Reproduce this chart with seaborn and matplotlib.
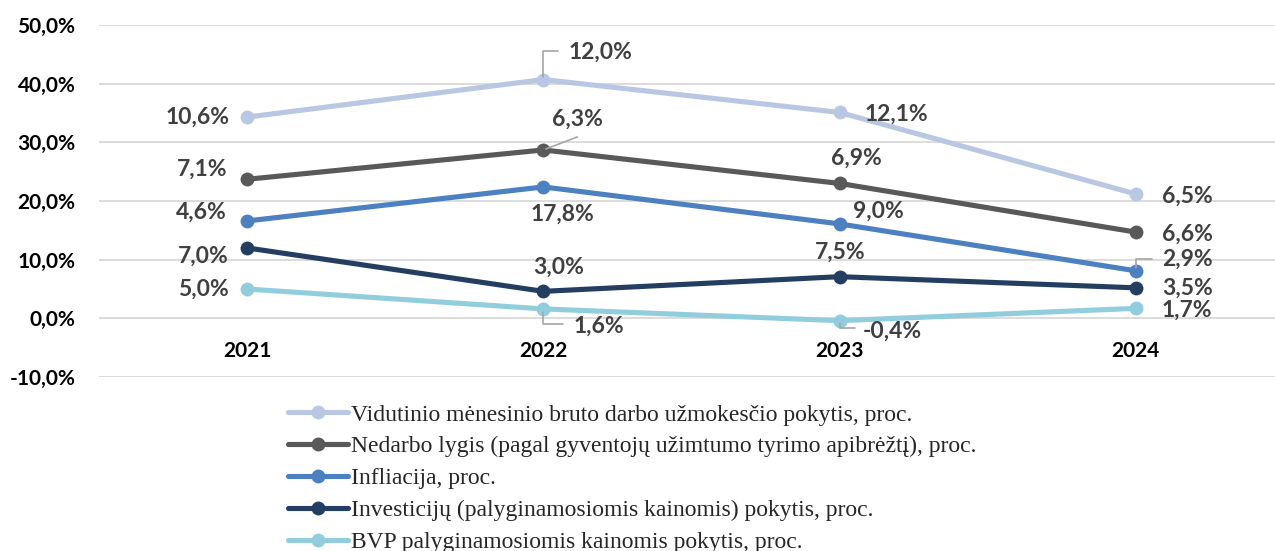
import pandas as pd
import numpy as np
import matplotlib
matplotlib.use("Agg")
import matplotlib.pyplot as plt
import seaborn as sns

# data (values as printed on the labels; lines are drawn stacked)
years = ["2021", "2022", "2023", "2024"]
series_names = [
    "Vidutinio mėnesinio bruto darbo užmokesčio pokytis, proc.",
    "Nedarbo lygis (pagal gyventojų užimtumo tyrimo apibrėžtį), proc.",
    "Infliacija, proc.",
    "Investicijų (palyginamosiomis kainomis) pokytis, proc.",
    "BVP palyginamosiomis kainomis pokytis, proc.",
]
bvp = [5.0, 1.6, -0.4, 1.7]
investicijos = [7.0, 3.0, 7.5, 3.5]
infliacija = [4.6, 17.8, 9.0, 2.9]
nedarbas = [7.1, 6.3, 6.9, 6.6]
atlyginimas = [10.6, 12.0, 12.1, 6.5]
colors = ["#B9C7E2", "#595959", "#4C80C1", "#243E62", "#92CDDD"]

# stacking order: bottom -> top
stack = [bvp, investicijos, infliacija, nedarbas, atlyginimas]
cum = np.cumsum(np.array(stack), axis=0)
# reorder to legend order (top -> bottom)
raw_vals = stack[::-1]
cum_vals = cum[::-1]

rows = []
for name, raw, cv in zip(series_names, raw_vals, cum_vals):
    for i, y in enumerate(years):
        rows.append({"series": name, "idx": i, "year": y, "raw": raw[i], "cum": cv[i]})
df = pd.DataFrame(rows)

sns.set_style("white")
plt.rcParams["font.family"] = ["Lato", "DejaVu Sans"]

fig = plt.figure(figsize=(12.75, 5.51), dpi=100)
ax = fig.add_axes([99 / 1275, 1 - 377 / 551, 1 - 99 / 1275, (377 - 25) / 551])

sns.lineplot(data=df, x="idx", y="cum", hue="series", hue_order=series_names,
             palette=colors, marker="o", markersize=10, markeredgewidth=0,
             linewidth=3.7, ax=ax, legend=True)

ax.set_xlim(-0.5, 3.47)
ax.set_ylim(-10, 50)
ax.set_yticks(range(-10, 51, 10))
ax.set_yticklabels([f"{v},0%" for v in range(-10, 51, 10)],
                   fontsize=15, fontweight="bold", color="black")
ax.tick_params(axis="y", length=0, pad=17)
ax.set_xticks([])
ax.set_xlabel("")
ax.set_ylabel("")
ax.grid(axis="y", color="#D9D9D9", linewidth=1.3)
ax.set_axisbelow(True)
for s in ax.spines.values():
    s.set_visible(False)

for i, y in enumerate(years):
    ax.text(i, -5.6, y, ha="center", va="center", fontsize=15,
            fontweight="bold", color="black")

# label offsets in pixels: (dx, dy, ha)
offsets = [
    [(-18, 0, "right"), (25, 27, "left"), (25, -2, "left"), (26, -2, "left")],
    [(-20, 10, "right"), (9, 31, "left"), (17, 25, "center"), (26, -2, "left")],
    [(-20, 9, "right"), (19, -27, "center"), (39, 13, "center"), (26, 12, "left")],
    [(-18, -8, "right"), (15, 24, "center"), (1, 24, "center"), (26, 0, "left")],
    [(-18, 0, "right"), (30, -17, "left"), (23, -11, "left"), (26, -2, "left")],
]
for si, (raw, cv) in enumerate(zip(raw_vals, cum_vals)):
    for i in range(len(years)):
        dx, dy, ha = offsets[si][i]
        ax.annotate(f"{raw[i]:.1f}%".replace(".", ","), xy=(i, cv[i]),
                    xytext=(dx, dy), textcoords="offset pixels", ha=ha,
                    va="center", fontsize=16.5, fontweight="bold", color="#404040")

# leader lines: (series, year, end dx, end dy, connection)
leaders = [
    (0, 1, 15, 29, "angle,angleA=0,angleB=90,rad=0"),
    (1, 1, 34, 13, "arc3"),
    (4, 1, 20, -15, "angle,angleA=0,angleB=90,rad=0"),
    (4, 2, 15, -7, "angle,angleA=0,angleB=90,rad=0"),
    (2, 3, 16, 12, "angle,angleA=0,angleB=90,rad=0"),
]
for si, i, dx, dy, cs in leaders:
    ax.annotate("", xy=(i, cum_vals[si][i]), xytext=(dx, dy),
                textcoords="offset pixels",
                arrowprops=dict(arrowstyle="-", color="#A6A6A6", lw=1.2,
                                connectionstyle=cs, shrinkA=0, shrinkB=2))

handles, labels = ax.get_legend_handles_labels()
ax.legend_.remove()
fig.legend(handles, labels, loc="upper left",
           bbox_to_anchor=(288 / 1275, 1 - 404 / 551), frameon=False,
           prop={"family": "Liberation Serif", "size": 17},
           handlelength=2.55, handletextpad=0.1, labelspacing=0.44,
           borderpad=0, borderaxespad=0)

fig.savefig("out.png", dpi=100)
